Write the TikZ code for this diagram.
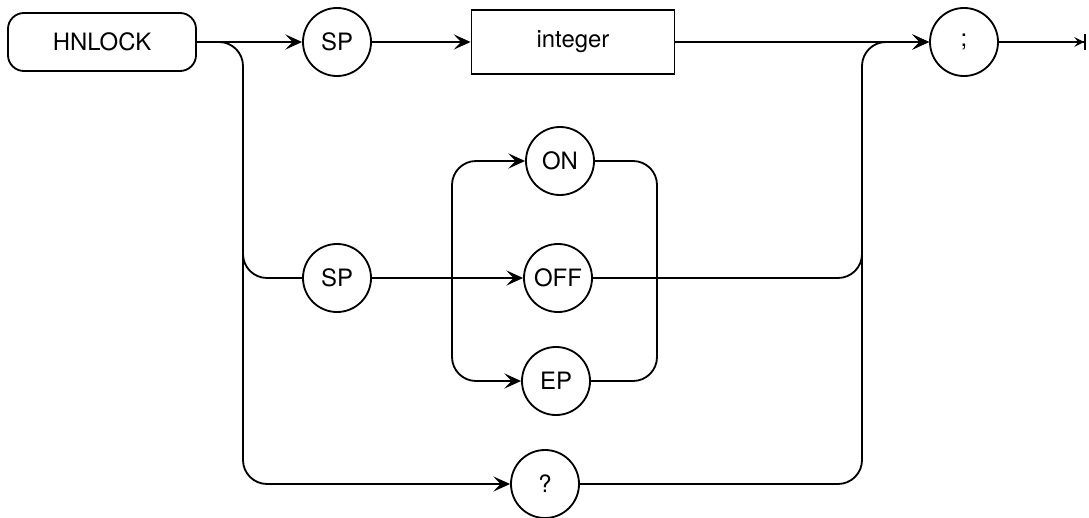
\documentclass[tikz,border=0pt]{standalone}
\usepackage{fontspec}
\setmainfont{TeX Gyre Heros}
\usetikzlibrary{arrows.meta}

\begin{document}
\begin{tikzpicture}[x=0.025cm, y=-0.025cm, line width=1.3pt,
  every node/.style={font=\fontsize{17}{20}\selectfont},
  token/.style={draw, circle, minimum size=1.7cm, inner sep=0pt},
  cmdbox/.style={draw, rounded corners=0.4cm, minimum width=4.7cm, minimum height=1.45cm},
  parambox/.style={draw, sharp corners, minimum width=5.075cm, minimum height=1.6cm},
  flow/.style={-{Stealth[length=4.2mm, width=3.8mm, inset=1.8mm]}},
  elbow/.style={rounded corners=0.6cm}]

\useasboundingbox (0,0) rectangle (1089,518);

\node[cmdbox] (hnlock) at (102,42) {HNLOCK};
\node[token] (sp1) at (337,42) {SP};
\node[parambox] (integer) at (573,42) {integer};
\node[token] (semi) at (964,42) {;};
\coordinate (stop) at (1086,42);

\node[token] (sp2) at (337,278) {SP};
\node[token] (on) at (560,161) {ON};
\node[token] (off) at (558,278) {OFF};
\node[token] (ep) at (556,381) {EP};
\node[token] (query) at (545,484) {?};

\coordinate (lft) at (243,484);
\coordinate (lftmid) at (243,230);
\coordinate (ina) at (452,278);
\coordinate (inb) at (657,278);
\coordinate (rgt) at (862,42);
\coordinate (rgtmid) at (862,230);

% main line
\draw[flow] (hnlock) -- (sp1);
\draw[flow] (sp1) -- (integer);
\draw[flow] (integer) -- (semi);
\draw[-{Stealth[length=2.5mm, width=2.5mm, inset=1mm]Bar[width=4mm]}] (semi) -- (stop);

% lower branches
\draw[elbow, flow] (hnlock.east) -| (lft) -- (query);
\draw[elbow] (lftmid) |- (sp2);
\draw[flow] (sp2) -- (off);
\draw[elbow, flow] (ina) |- (on);
\draw[elbow, flow] (ina) |- (ep);
\draw[elbow] (on) -| (inb);
\draw[elbow] (ep) -| (inb);
\draw[elbow] (off) -| (rgtmid);
\draw[elbow, flow] (query) -| (rgt) -- (semi);

\end{tikzpicture}
\end{document}
